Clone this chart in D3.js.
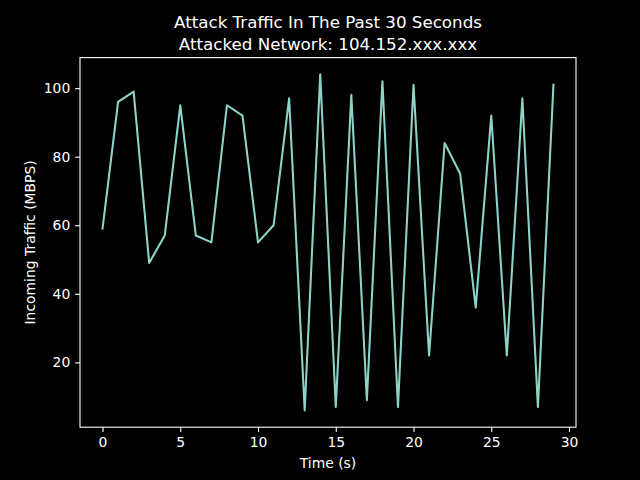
<!DOCTYPE html>
<html>
<head>
<meta charset="utf-8">
<script src="https://cdn.jsdelivr.net/npm/d3@7"></script>
<style>
  html, body { margin: 0; padding: 0; background: #000; }
  svg { display: block; font-family: "DejaVu Sans", sans-serif; }
</style>
</head>
<body>
<div id="chart"></div>
<script>
const seconds = d3.range(0, 30);
const traffic = [59, 96, 99, 49, 57, 95, 57, 55, 95, 92,
                 55, 60, 97, 6, 104, 7, 98, 9, 102, 7,
                 101, 22, 84, 75, 36, 92, 22, 97, 7, 101];
const xTicks = [0, 5, 10, 15, 20, 25, 30];
const yTicks = [20, 40, 60, 80, 100];
const titleLines = ['Attack Traffic In The Past 30 Seconds', 'Attacked Network: 104.152.xxx.xxx'];

function renderTraffic() {
    const W = 640, H = 480;
    const margin = {top: 57.6, right: 64, bottom: 52.8, left: 80};
    const width = W - margin.left - margin.right;
    const height = H - margin.top - margin.bottom;

    const svg = d3.select('#chart')
        .append('svg')
        .attr('width', W)
        .attr('height', H);

    svg.append('rect')
        .attr('width', W)
        .attr('height', H)
        .attr('fill', '#000');

    // matplotlib-like 5% margins around the data
    const xExt = d3.extent(seconds);
    const yExt = d3.extent(traffic);
    const xPad = (xExt[1] - xExt[0]) * 0.05;
    const yPad = (yExt[1] - yExt[0]) * 0.05;

    const x = d3.scaleLinear()
        .domain([xExt[0] - xPad, xExt[1] + xPad])
        .range([0, width]);

    const y = d3.scaleLinear()
        .domain([yExt[0] - yPad, yExt[1] + yPad])
        .range([height, 0]);

    const g = svg.append('g')
        .attr('transform', `translate(${margin.left},${margin.top})`);

    const line = d3.line()
        .x((d, i) => x(seconds[i]))
        .y(d => y(d));

    g.append('path')
        .datum(traffic)
        .attr('fill', 'none')
        .attr('stroke', '#8dd3c7')
        .attr('stroke-width', 2.08)
        .attr('stroke-linejoin', 'round')
        .attr('stroke-linecap', 'square')
        .attr('d', line);

    // frame
    g.append('rect')
        .attr('width', width)
        .attr('height', height)
        .attr('fill', 'none')
        .attr('stroke', '#fff')
        .attr('stroke-width', 1.1);

    const xAxis = g.append('g')
        .attr('transform', `translate(0,${height})`)
        .call(d3.axisBottom(x).tickValues(xTicks).tickSize(4.86).tickPadding(4.86).tickFormat(d3.format('d')));

    const yAxis = g.append('g')
        .call(d3.axisLeft(y).tickValues(yTicks).tickSize(4.86).tickPadding(4.86).tickFormat(d3.format('d')));

    [xAxis, yAxis].forEach(ax => {
        ax.select('.domain').remove();
        ax.selectAll('line').attr('stroke', '#fff').attr('stroke-width', 1.1);
        ax.selectAll('text')
            .attr('fill', '#fff')
            .style('font-size', '13.9px')
            .style('font-family', '"DejaVu Sans", sans-serif');
    });

    svg.append('text')
        .attr('x', margin.left + width / 2)
        .attr('y', 467.5)
        .attr('fill', '#fff')
        .style('font-size', '13.9px')
        .style('text-anchor', 'middle')
        .text('Time (s)');

    svg.append('text')
        .attr('transform', `translate(35,${margin.top + height / 2}) rotate(-90)`)
        .attr('fill', '#fff')
        .style('font-size', '13.9px')
        .style('text-anchor', 'middle')
        .text('Incoming Traffic (MBPS)');

    svg.selectAll('.title')
        .data(titleLines)
        .enter().append('text')
        .attr('class', 'title')
        .attr('x', margin.left + width / 2)
        .attr('y', (d, i) => 27.5 + i * 22)
        .attr('fill', '#fff')
        .style('font-size', '16.7px')
        .style('text-anchor', 'middle')
        .text(d => d);
}

renderTraffic();
</script>
</body>
</html>
